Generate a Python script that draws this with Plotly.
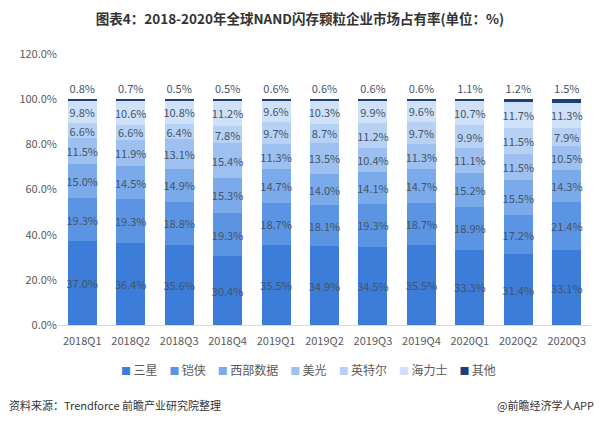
import plotly.graph_objects as go

quarters = ["2018Q1", "2018Q2", "2018Q3", "2018Q4", "2019Q1", "2019Q2",
            "2019Q3", "2019Q4", "2020Q1", "2020Q2", "2020Q3"]

samsung = [37.0, 36.4, 35.6, 30.4, 35.5, 34.9, 34.5, 35.5, 33.3, 31.4, 33.1]
kioxia = [19.3, 19.3, 18.8, 19.3, 18.7, 18.1, 19.3, 18.7, 18.9, 17.2, 21.4]
wd = [15.0, 14.5, 14.9, 15.3, 14.7, 14.0, 14.1, 14.7, 15.2, 15.5, 14.3]
micron = [11.5, 11.9, 13.1, 15.4, 11.3, 13.5, 10.4, 11.3, 11.1, 11.5, 10.5]
intel = [6.6, 6.6, 6.4, 7.8, 9.7, 8.7, 11.2, 9.7, 9.9, 11.5, 7.9]
hynix = [9.8, 10.6, 10.8, 11.2, 9.6, 10.3, 9.9, 9.6, 10.7, 11.7, 11.3]
others = [0.8, 0.7, 0.5, 0.5, 0.6, 0.6, 0.6, 0.6, 1.1, 1.2, 1.5]

series = [
    ("三星", samsung, "#3b7dd8"),
    ("铠侠", kioxia, "#5a94e2"),
    ("西部数据", wd, "#7baaea"),
    ("美光", micron, "#9dc0f0"),
    ("英特尔", intel, "#b6d1f4"),
    ("海力士", hynix, "#cfe1f8"),
    ("其他", others, "#1f3f7c"),
]

font = "Noto Sans CJK SC"
fig = go.Figure()
for name, vals, color in series:
    fig.add_trace(go.Bar(
        x=quarters, y=vals, name=name,
        marker=dict(color=color, line=dict(width=0)),
        text=[f"{v:.1f}%" for v in vals],
        textposition="outside" if name == "其他" else "inside",
        insidetextanchor="middle",
        textangle=0,
        constraintext="none",
        cliponaxis=False,
        showlegend=False,
        textfont=dict(size=11, color="#44546a", family=font),
    ))

# compact legend built as one text line (native legend spacing is too wide)
gap = "\u2003"
legend_text = gap.join(
    f"<span style='color:{c};font-size:10px'>■</span>\u2009{n}" for n, _, c in series
)

fig.update_layout(
    barmode="stack",
    bargap=0.4,
    width=600, height=423,
    margin=dict(l=58, r=9, t=54, b=98),
    plot_bgcolor="white",
    paper_bgcolor="white",
    font=dict(family=font, color="#595959"),
    title=dict(text="<b>图表4：2018-2020年全球NAND闪存颗粒企业市场占有率(单位：%)</b>",
               x=0.5, xanchor="center", y=0.955, yanchor="middle",
               font=dict(size=13.5, color="#333333", family=font)),
    xaxis=dict(showgrid=False, showline=True, linecolor="#d9d9d9",
               tickfont=dict(size=11, color="#595959"), ticks="",
               ticklabelstandoff=6),
    yaxis=dict(range=[0, 120], dtick=20, showgrid=False, zeroline=False,
               ticksuffix="%", tickformat=".1f",
               tickfont=dict(size=11, color="#595959")),
    annotations=[
        dict(text=legend_text, xref="paper", yref="paper",
             x=0.47, y=-0.165, xanchor="center", yanchor="middle", showarrow=False,
             font=dict(size=12, color="#595959")),
        dict(text="资料来源：Trendforce 前瞻产业研究院整理", xref="paper", yref="paper",
             x=-0.095, y=-0.295, xanchor="left", yanchor="middle", showarrow=False,
             font=dict(size=11, color="#333333")),
        dict(text="@前瞻经济学人APP", xref="paper", yref="paper",
             x=1.01, y=-0.295, xanchor="right", yanchor="middle", showarrow=False,
             font=dict(size=11, color="#333333")),
    ],
)

fig.write_html("out.html", config={"displayModeBar": False},
               post_script="document.body.style.margin='0';")
